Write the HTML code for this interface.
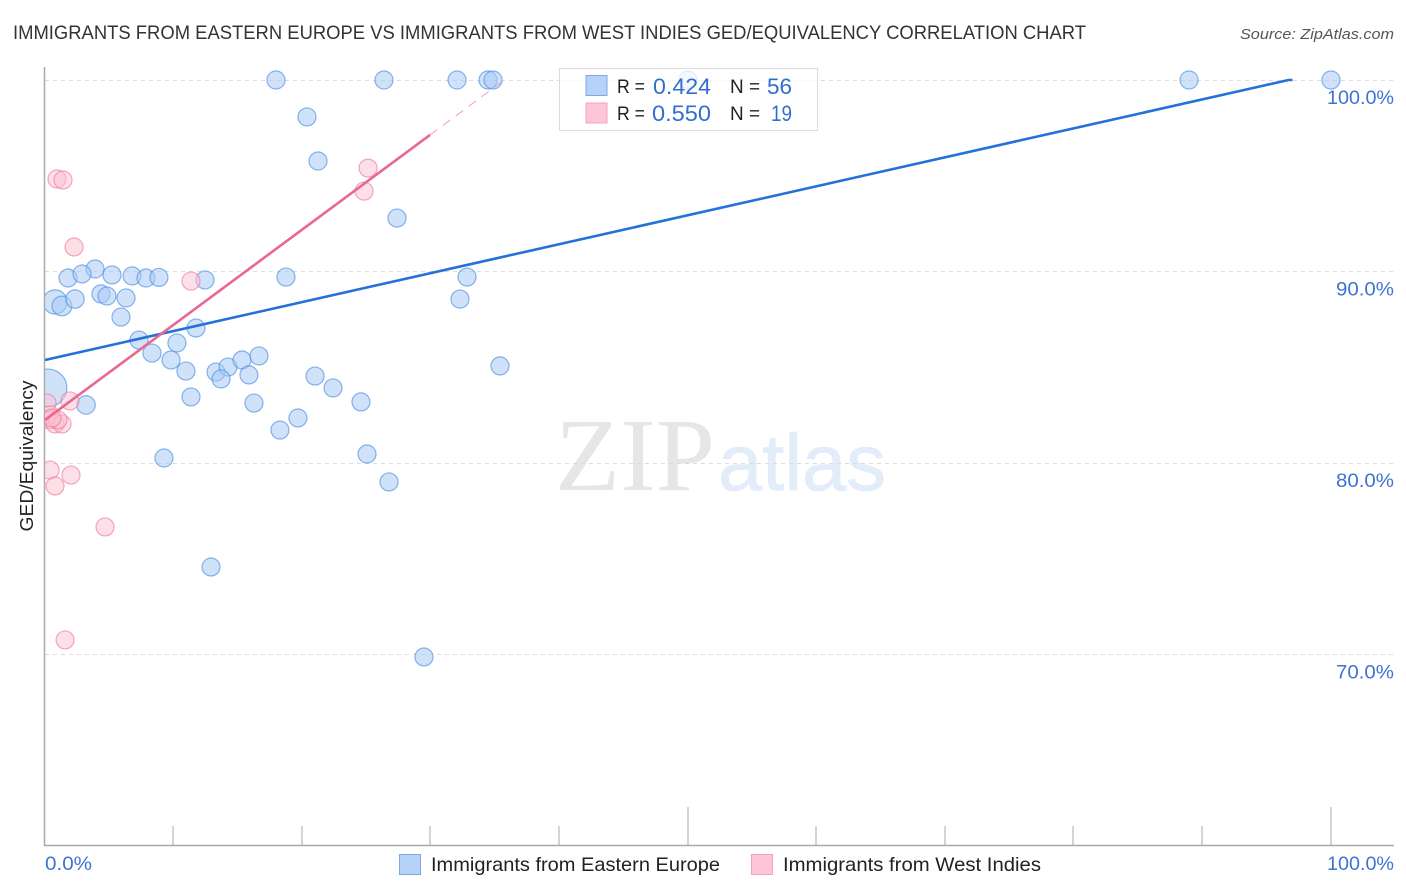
<!DOCTYPE html>
<html>
<head>
<meta charset="utf-8">
<title>GED/Equivalency Correlation Chart</title>
<style>
html,body{margin:0;padding:0;background:#fff;}
svg{display:block;font-family:"Liberation Sans",sans-serif;}
</style>
</head>
<body>
<svg id="chart" xmlns="http://www.w3.org/2000/svg" width="1406" height="892" viewBox="0 0 1406 892">
  <text x="13" y="39" font-size="19.5" fill="#333" textLength="1073" lengthAdjust="spacingAndGlyphs">IMMIGRANTS FROM EASTERN EUROPE VS IMMIGRANTS FROM WEST INDIES GED/EQUIVALENCY CORRELATION CHART</text>
  <text x="1394" y="39" font-size="15" font-style="italic" fill="#555" text-anchor="end" textLength="154" lengthAdjust="spacingAndGlyphs">Source: ZipAtlas.com</text>

  <g>
    <text x="555" y="490" font-family="'Liberation Serif',serif" font-size="104" fill="#e6e6e6" textLength="160" lengthAdjust="spacingAndGlyphs">ZIP</text>
    <text x="718" y="490" font-size="80" fill="#e3edfa" stroke="#e3edfa" stroke-width="0.8" textLength="168" lengthAdjust="spacingAndGlyphs">atlas</text>
  </g>

  <g id="grid"></g>
  <g id="axes"></g>
  <defs>
    <clipPath id="plot-clip"><rect x="45" y="60" width="1350" height="786"></rect></clipPath>
  </defs>
  <g id="points" clip-path="url(#plot-clip)"></g>
  <g id="lines"></g>

  <g>
    <rect x="559.5" y="68.5" width="258" height="62" fill="#fff" fill-opacity="0.75" stroke="#dcdcdc" stroke-width="1"></rect>
    <rect x="586" y="75.5" width="21" height="20" fill="#b5d3f8" stroke="#7fa8e0" stroke-width="1"></rect>
    <rect x="586" y="103" width="21" height="20" fill="#fcc6d8" stroke="#f2a3bb" stroke-width="1"></rect>
    <g font-size="19.5">
      <text x="617" y="93" fill="#222" textLength="28" lengthAdjust="spacingAndGlyphs">R =</text>
      <text x="653" y="94" fill="#2f6fd0" font-size="22" textLength="58" lengthAdjust="spacingAndGlyphs">0.424</text>
      <text x="730" y="93" fill="#222" textLength="30" lengthAdjust="spacingAndGlyphs">N =</text>
      <text x="767" y="94" fill="#2f6fd0" font-size="22" textLength="25" lengthAdjust="spacingAndGlyphs">56</text>
      <text x="617" y="120" fill="#222" textLength="28" lengthAdjust="spacingAndGlyphs">R =</text>
      <text x="652" y="121" fill="#2f6fd0" font-size="22" textLength="59" lengthAdjust="spacingAndGlyphs">0.550</text>
      <text x="730" y="120" fill="#222" textLength="30" lengthAdjust="spacingAndGlyphs">N =</text>
      <text x="771" y="121" fill="#2f6fd0" font-size="22" textLength="21" lengthAdjust="spacingAndGlyphs">19</text>
    </g>
  </g>

  <text transform="translate(33,456) rotate(-90)" font-size="18" fill="#222" text-anchor="middle" textLength="151" lengthAdjust="spacingAndGlyphs">GED/Equivalency</text>

  <g>
    <rect x="399.5" y="854.5" width="21" height="20" fill="#b5d3f8" stroke="#7fa8e0" stroke-width="1"></rect>
    <text x="431" y="871" font-size="19.5" fill="#222" textLength="289" lengthAdjust="spacingAndGlyphs">Immigrants from Eastern Europe</text>
    <rect x="751.5" y="854.5" width="21" height="20" fill="#fcc6d8" stroke="#f2a3bb" stroke-width="1"></rect>
    <text x="783" y="871" font-size="19.5" fill="#222" textLength="258" lengthAdjust="spacingAndGlyphs">Immigrants from West Indies</text>
  </g>
</svg>

<script>
const xTickValues = [10, 20, 30, 40, 50, 60, 70, 80, 90, 100];
const xMajorTicks = [50, 100];
const xEndLabels = ['0.0%', '100.0%'];
const yTickValues = [100, 90, 80, 70];
const yTickLabels = ['100.0%', '90.0%', '80.0%', '70.0%'];

const blueX = [17.96, 26.36, 32.04, 34.45, 34.84, 50.0, 88.96, 100, 20.37, 21.23, 27.37, 12.44, 18.74, 32.82, 32.27, 3.89, 1.79, 2.88, 5.21, 6.77, 7.85, 8.86, 0.78, 1.32, 2.33, 4.35, 4.82, 6.30, 5.91, 7.31, 11.74, 10.26, 8.32, 9.80, 10.96, 13.30, 14.23, 15.32, 16.64, 13.69, 15.86, 11.35, 16.25, 21.0, 22.4, 24.57, 19.67, 18.27, 35.38, 0.23, 3.19, 9.25, 25.04, 26.75, 12.91, 29.47];
const blueY = [100, 100, 100, 100, 100, 100, 100, 100, 98.07, 95.77, 92.79, 89.56, 89.71, 89.71, 88.56, 90.13, 89.66, 89.87, 89.82, 89.77, 89.66, 89.69, 88.41, 88.2, 88.56, 88.83, 88.72, 88.62, 87.62, 86.42, 87.05, 86.27, 85.74, 85.38, 84.80, 84.75, 85.01, 85.38, 85.59, 84.39, 84.60, 83.45, 83.13, 84.54, 83.92, 83.19, 82.35, 81.72, 85.07, 83.92, 83.03, 80.26, 80.47, 79.01, 74.57, 69.87];
const blueWeight = [1, 1, 1, 1, 1, 1, 1, 1, 1, 1, 1, 1, 1, 1, 1, 1, 1, 1, 1, 1, 1, 1, 1.8, 1.2, 1.05, 1, 1, 1, 1, 1, 1, 1, 1, 1, 1, 1, 1, 1, 1, 1, 1, 1, 1, 1, 1, 1, 1, 1, 1, 4.4, 1.05, 1, 1, 1, 1, 1];

const pinkX = [0.93, 1.40, 2.26, 11.35, 25.12, 24.81, 1.94, 0.16, 0.39, 0.39, 0.78, 1.32, 1.01, 0.54, 0.39, 0.78, 2.02, 4.67, 1.56];
const pinkY = [94.83, 94.78, 91.28, 89.50, 95.40, 94.20, 83.24, 83.13, 82.51, 82.25, 82.04, 82.04, 82.25, 82.35, 79.63, 78.80, 79.37, 76.66, 70.76];

const blueTrendIntercept = 85.38;
const blueTrendSlope = 0.1512;
const pinkTrendIntercept = 82.25;
const pinkTrendSlope = 0.497;
const pinkSolidEnd = 29.94;
const pinkDashEnd = 35.5;

const NS = 'http://www.w3.org/2000/svg';
const xScale = v => 45 + v * 12.86;
const yScale = v => 80 + (100 - v) * 19.15;
const rScale = w => 9 * Math.sqrt(w);
const gridG = document.getElementById('grid');
const axesG = document.getElementById('axes');
const pointsG = document.getElementById('points');
const linesG = document.getElementById('lines');

function mk(tag, attrs, parent) {
  const el = document.createElementNS(NS, tag);
  for (const k in attrs) el.setAttribute(k, attrs[k]);
  parent.appendChild(el);
  return el;
}

yTickValues.forEach((v, i) => {
  const y = Math.floor(yScale(v)) + 0.5;
  const line = mk('line', {x1: 45, x2: 1394, y1: y, y2: y, stroke: '#dcdcdc', 'stroke-width': 1, 'stroke-dasharray': '4 4'}, gridG);
  
  
  const label = mk('text', {x: 1394, y: yScale(v) + 24, 'text-anchor': 'end', 'font-size': 19.5, fill: '#3f73d2', textLength: yTickLabels[i].length > 5 ? 67 : 58, lengthAdjust: 'spacingAndGlyphs'}, axesG);
  
  
  label.textContent = yTickLabels[i];
});

const yAxis = mk('line', {x1: 44.5, x2: 44.5, y1: 67, y2: 846, stroke: '#aaa', 'stroke-width': 1.5}, axesG);


const xAxis = mk('line', {x1: 44, x2: 1394, y1: 845.5, y2: 845.5, stroke: '#aaa', 'stroke-width': 1.5}, axesG);



xTickValues.forEach(v => {
  const x = Math.floor(xScale(v));
  const top = xMajorTicks.includes(v) ? 807 : 826;
  const tick = mk('line', {x1: x, x2: x, y1: top, y2: 846, stroke: '#aaa', 'stroke-width': 1}, axesG);
  
  
});

const xLabelLeft = mk('text', {x: 45, y: 870, 'font-size': 19.5, fill: '#3f73d2', textLength: 47, lengthAdjust: 'spacingAndGlyphs'}, axesG);


xLabelLeft.textContent = xEndLabels[0];
const xLabelRight = mk('text', {x: 1394, y: 870, 'font-size': 19.5, fill: '#3f73d2', 'text-anchor': 'end', textLength: 67, lengthAdjust: 'spacingAndGlyphs'}, axesG);


xLabelRight.textContent = xEndLabels[1];

blueX.forEach((v, i) => {
  const c = mk('circle', {cx: xScale(v), cy: yScale(blueY[i]), r: rScale(blueWeight[i]), fill: '#a9cbf4', 'fill-opacity': 0.55, stroke: '#4a8ee0', 'stroke-opacity': 0.65, 'stroke-width': 1.2}, pointsG);
  
  
});
pinkX.forEach((v, i) => {
  const c = mk('circle', {cx: xScale(v), cy: yScale(pinkY[i]), r: 9, fill: '#fbbfd2', 'fill-opacity': 0.5, stroke: '#ee6f96', 'stroke-opacity': 0.6, 'stroke-width': 1.2}, pointsG);
  
  
});

const blueHit = (100 - blueTrendIntercept) / blueTrendSlope;
const blueTrend = mk('polyline', {points: xScale(0) + ',' + yScale(blueTrendIntercept) + ' ' + xScale(blueHit) + ',' + yScale(100) + ' ' + (xScale(blueHit) + 4) + ',' + yScale(100), fill: 'none', stroke: '#2472d8', 'stroke-width': 2.6}, linesG);



const pinkAt = x => pinkTrendIntercept + pinkTrendSlope * x;
const pinkTrend = mk('line', {x1: xScale(0), y1: yScale(pinkAt(0)), x2: xScale(pinkSolidEnd), y2: yScale(pinkAt(pinkSolidEnd)), stroke: '#e8688f', 'stroke-width': 2.6}, linesG);


const pinkDash = mk('line', {x1: xScale(pinkSolidEnd), y1: yScale(pinkAt(pinkSolidEnd)), x2: xScale(pinkDashEnd), y2: yScale(pinkAt(pinkDashEnd)), stroke: '#f0a0b8', 'stroke-width': 1, 'stroke-dasharray': '9 7'}, linesG);


</script>
</body>
</html>
